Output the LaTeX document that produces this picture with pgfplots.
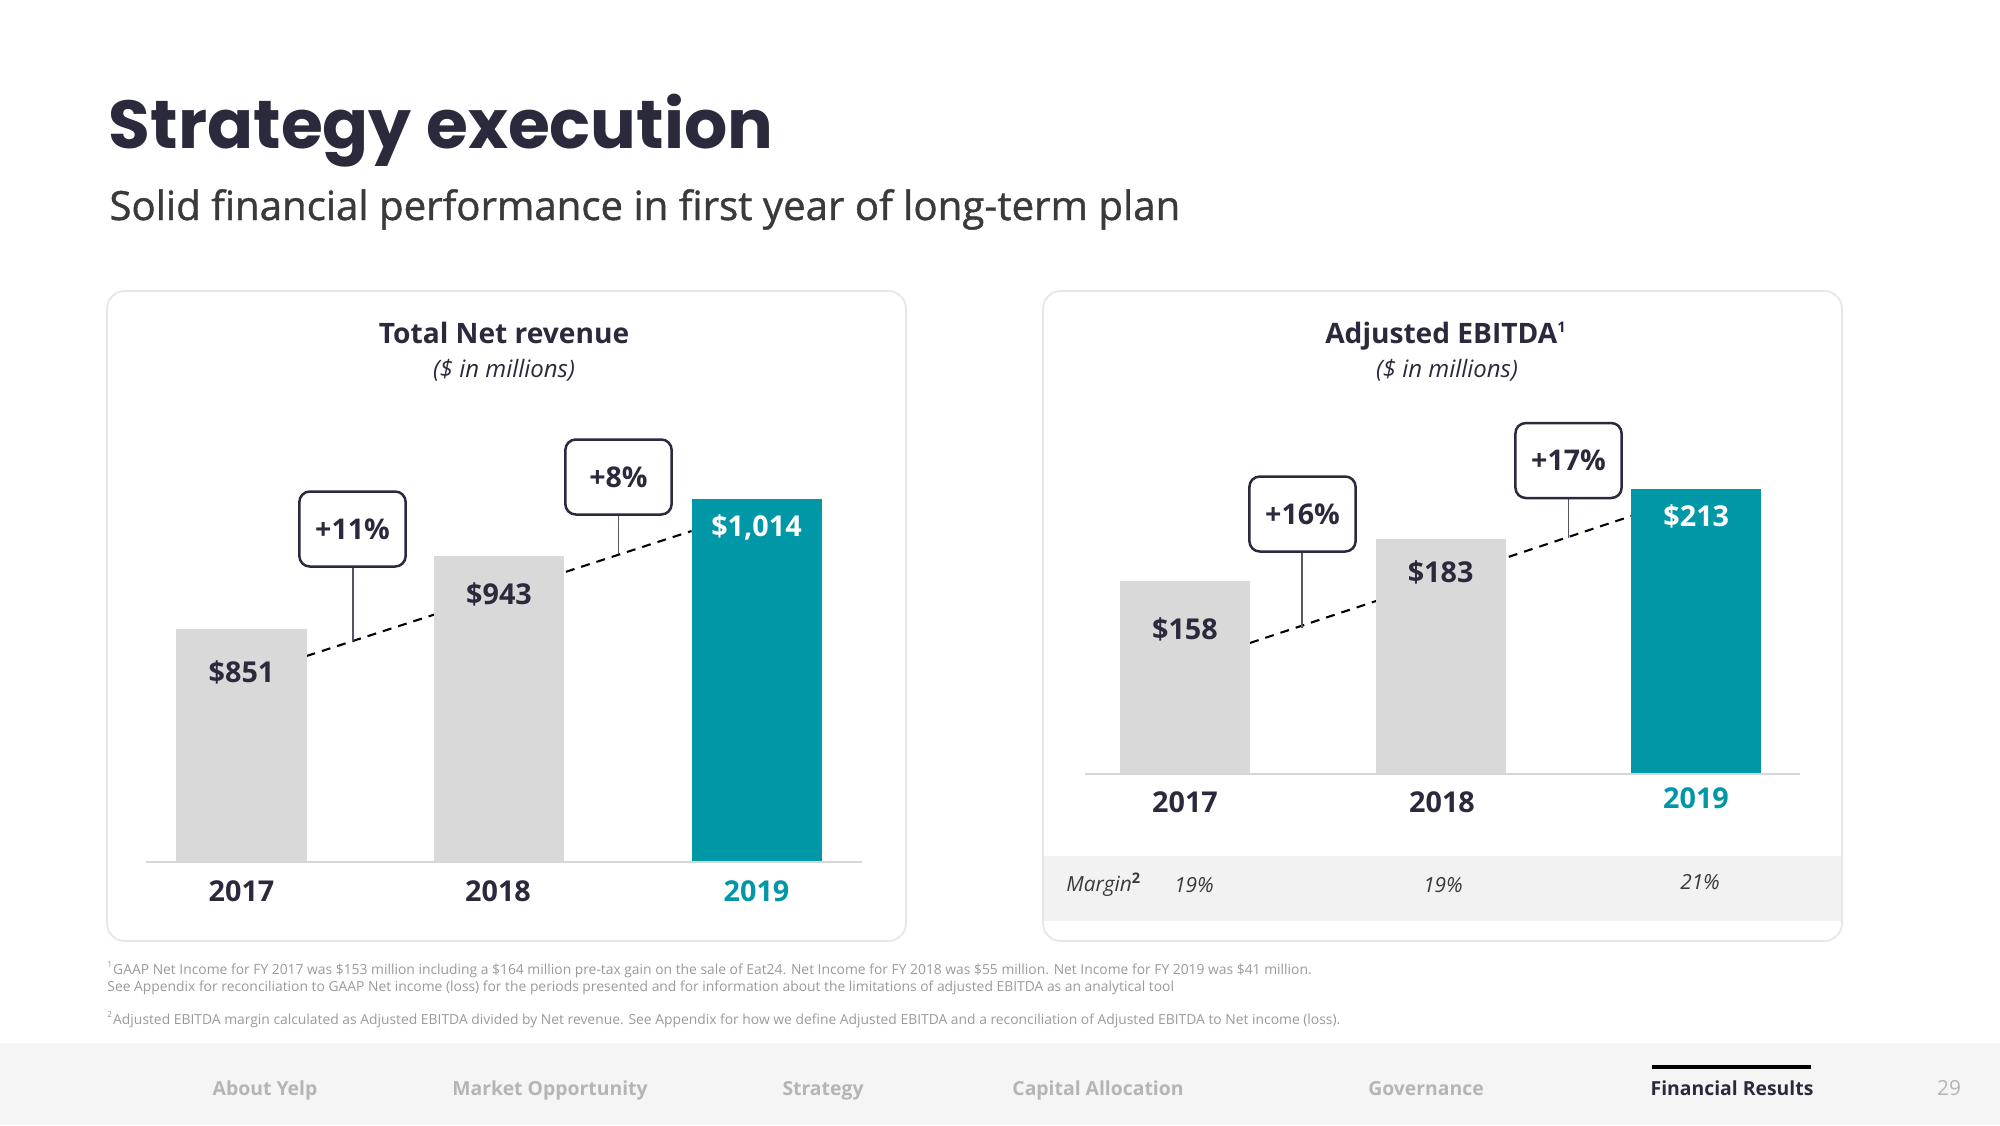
\documentclass[border=0pt]{standalone}
\usepackage{pgfplots}
\pgfplotsset{compat=1.18}
\usepackage{fontspec}
\setmainfont{Open Sans}
\newfontfamily\poppins{Poppins}
\newfontfamily\osemi{Open Sans}[FakeBold=1.1]
\definecolor{yteal}{HTML}{0097A7}
\definecolor{barg}{HTML}{D9D9D9}
\definecolor{ink}{HTML}{2B2A3C}
\definecolor{sub}{HTML}{3A3A3A}
\definecolor{foot}{HTML}{9A9A9A}
\definecolor{navc}{HTML}{B5B5B5}
\definecolor{band}{HTML}{F2F2F2}
\definecolor{navband}{HTML}{F5F5F6}
\definecolor{panel}{HTML}{E6E6E6}
\definecolor{base}{HTML}{D6D6D6}
\tikzset{
  bignum/.style={font=\bfseries\fontsize{13.8}{16}\selectfont, text=ink},
  gbox/.style={draw=ink, line width=1.2pt, rounded corners=5pt, minimum width=51pt, minimum height=36pt, inner sep=0pt, fill=white, font=\bfseries\fontsize{13.7}{16}\selectfont, text=ink},
  conn/.style={draw=ink!80, line width=0.8pt},
  navi/.style={font=\bfseries\fontsize{9.3}{11}\selectfont, text=navc, anchor=base},
}
\pgfplotsset{
  mybar/.style={ybar, draw=none, point meta=explicit symbolic, nodes near coords,
    every node near coord/.append style={anchor=center, yshift=#1, bignum}},
}
\begin{document}
\begin{tikzpicture}[x=0.48pt,y=-0.48pt]
\fill[white] (0,0) rectangle (2000,1125);
\useasboundingbox (0,0) rectangle (2000,1125);

% titles
\node[anchor=base west, inner sep=0pt, text=ink, font=\poppins\bfseries\fontsize{32.6}{36}\selectfont] at (108.5,148) {Strategy execution};
\node[anchor=base west, inner sep=0pt, text=sub, font=\osemi\fontsize{19.3}{23}\selectfont] at (109,220) {Solid financial performance in first year of long-term plan};

% panels
\fill[band] (1044,856) rectangle (1841,921);
\draw[panel, line width=0.8pt, rounded corners=8.5pt] (107,291) rectangle (906,941);
\draw[panel, line width=0.8pt, rounded corners=8.5pt] (1043,291) rectangle (1842,941);

\node[anchor=base, inner sep=0pt, text=ink, font=\bfseries\fontsize{13.5}{16}\selectfont] at (504,343.5) {Total Net revenue};
\node[anchor=base, inner sep=0pt, text=ink, font=\itshape\fontsize{11.5}{14}\selectfont] at (504,377) {(\$ in millions)};
\node[anchor=base, inner sep=0pt, text=ink, font=\bfseries\fontsize{13.5}{16}\selectfont] at (1446,343.5) {Adjusted EBITDA\textsuperscript{\fontsize{7}{8}\selectfont 1}};
\node[anchor=base, inner sep=0pt, text=ink, font=\itshape\fontsize{11.5}{14}\selectfont] at (1447,377) {(\$ in millions)};

% left chart
\begin{axis}[at={(70.08pt,-413.76pt)}, anchor=south west, scale only axis,
  width=343.68pt, height=207.36pt,
  xmin=-0.3709, xmax=2.4097, ymin=560, ymax=1100,
  hide axis, clip mode=individual, bar width=0.505]
\addplot[black, line width=1pt, dash pattern=on 4.3pt off 3.4pt] coordinates {(0.2525,817.5) (1.7475,973.75)};
\addplot[mybar=-20.9pt, fill=barg] coordinates {(0,851) [\$851]};
\addplot[mybar=-18.5pt, fill=barg] coordinates {(1,943) [\$943]};
\addplot[mybar=-13.7pt, fill=yteal, every node near coord/.append style={text=white}] coordinates {(2,1014) [\$1,014]};
\end{axis}

% right chart
\begin{axis}[at={(520.8pt,-371.52pt)}, anchor=south west, scale only axis,
  width=343.2pt, height=174.58pt,
  xmin=-0.391, xmax=2.406, ymin=43, ymax=260,
  hide axis, clip mode=individual, bar width=0.509]
\addplot[black, line width=1pt, dash pattern=on 4.3pt off 3.4pt] coordinates {(0.2545,121.2) (1.7455,196.9)};
\addplot[mybar=-23.1pt, fill=barg] coordinates {(0,158) [\$158]};
\addplot[mybar=-15.8pt, fill=barg] coordinates {(1,183) [\$183]};
\addplot[mybar=-13.2pt, fill=yteal, every node near coord/.append style={text=white}] coordinates {(2,213) [\$213]};
\end{axis}

% baselines
\draw[base, line width=1pt] (146,862) -- (862,862);
\draw[base, line width=1pt] (1085,774) -- (1800,774);

% year labels
\node[bignum] at (241.5,891.5) {2017};
\node[bignum] at (498,891.5) {2018};
\node[bignum, text=yteal] at (756.5,891.5) {2019};
\node[bignum] at (1185,802) {2017};
\node[bignum] at (1442,802) {2018};
\node[bignum, text=yteal] at (1696,798.5) {2019};

% growth boxes
\draw[conn] (352.7,568) -- (352.7,641);
\node[gbox] at (352.5,529) {+11\%};
\draw[conn] (618.5,515) -- (618.5,554);
\node[gbox] at (618.5,477) {+8\%};
\draw[conn] (1302,552) -- (1302,628);
\node[gbox] at (1302.5,514) {+16\%};
\draw[conn] (1568.5,499) -- (1568.5,538);
\node[gbox] at (1568.5,460.5) {+17\%};

% margin row
\node[anchor=base west, inner sep=0pt, text=sub, font=\itshape\fontsize{10}{12}\selectfont] at (1066,891) {Margin\textsuperscript{\upshape\bfseries\fontsize{7}{8}\selectfont 2}};
\node[anchor=base, inner sep=0pt, text=sub, font=\itshape\fontsize{10}{12}\selectfont] at (1194,892) {19\%};
\node[anchor=base, inner sep=0pt, text=sub, font=\itshape\fontsize{10}{12}\selectfont] at (1443,892) {19\%};
\node[anchor=base, inner sep=0pt, text=sub, font=\itshape\fontsize{10}{12}\selectfont] at (1700,889) {21\%};

% footnotes
\begin{scope}[every node/.style={anchor=base west, inner sep=0pt, text=foot, font=\fontsize{6.65}{8}\selectfont}]
\node at (107,974) {\textsuperscript{\fontsize{4}{5}\selectfont 1}GAAP Net Income for FY 2017 was \$153 million including a \$164 million pre-tax gain on the sale of Eat24. Net Income for FY 2018 was \$55 million. Net Income for FY 2019 was \$41 million.};
\node at (107,991) {See Appendix for reconciliation to GAAP Net income (loss) for the periods presented and for information about the limitations of adjusted EBITDA as an analytical tool};
\node at (107,1024) {\textsuperscript{\fontsize{4}{5}\selectfont 2}Adjusted EBITDA margin calculated as Adjusted EBITDA divided by Net revenue. See Appendix for how we define Adjusted EBITDA and a reconciliation of Adjusted EBITDA to Net income (loss).};
\end{scope}

% nav bar
\fill[navband] (0,1043) rectangle (2000,1125);
\node[navi] at (265,1095) {About Yelp};
\node[navi] at (550,1095) {Market Opportunity};
\node[navi] at (823,1095) {Strategy};
\node[navi] at (1098,1095) {Capital Allocation};
\node[navi] at (1426,1095) {Governance};
\node[navi, text=ink] at (1732,1095) {Financial Results};
\fill[black] (1652,1065) rectangle (1811,1069);
\node[anchor=base, inner sep=0pt, text=navc, font=\fontsize{10}{12}\selectfont] at (1949,1095) {29};
\end{tikzpicture}
\end{document}
